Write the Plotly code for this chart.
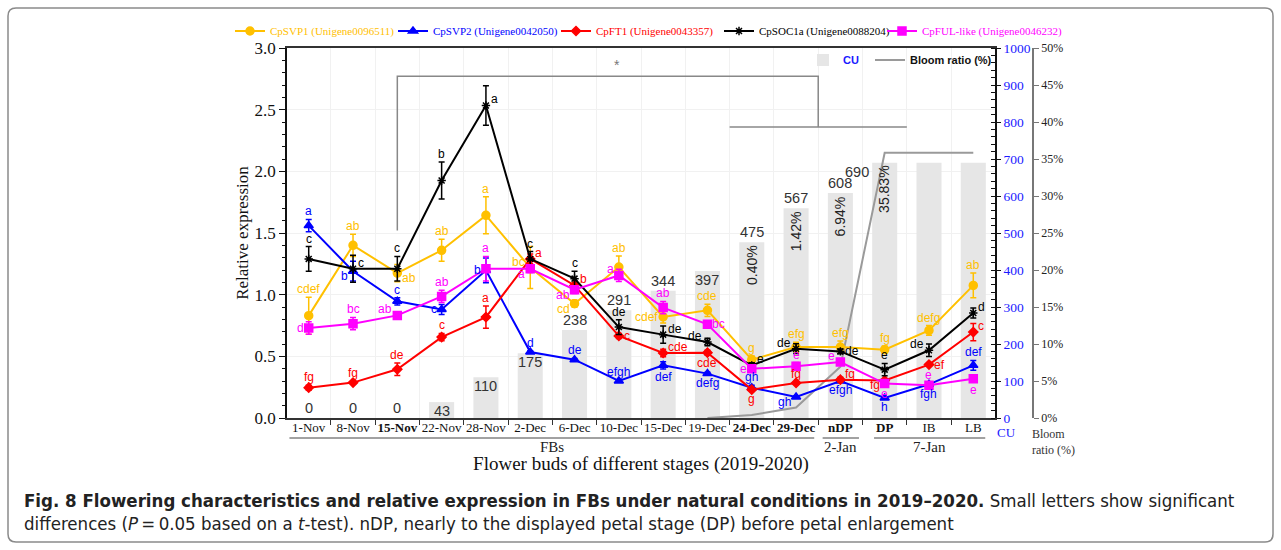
import plotly.graph_objects as go

# ---------------- data ----------------
stages = ["1-Nov", "8-Nov", "15-Nov", "22-Nov", "28-Nov", "2-Dec", "6-Dec", "10-Dec",
          "15-Dec", "19-Dec", "24-Dec", "29-Dec", "nDP", "DP", "IB", "LB"]
bold_stages = ["15-Nov", "24-Dec", "29-Dec", "nDP", "DP"]

cu = [0, 0, 0, 43, 110, 175, 238, 291, 344, 397, 475, 567, 608, 690, 690, 690]
cu_label_mode = ["out", "out", "out", "in", "in", "in", "out", "out", "out", "in",
                 "out", "out", "out", "in", None, None]

bloom_start = 9
bloom = [0, 0.40, 1.42, 6.94, 35.83, 35.83, 35.83]
bloom_label_idx = [10, 11, 12, 13]

svp1 = [0.83, 1.40, 1.175, 1.36, 1.643, 1.22, 0.927, 1.224, 0.82, 0.873, 0.473, 0.575, 0.575, 0.554, 0.71, 1.075]
svp1_err = [0.15, 0.09, 0.07, 0.09, 0.15, 0.17, 0.03, 0.09, 0.05, 0.05, 0.03, 0.04, 0.05, 0.03, 0.04, 0.10]
svp1_sig = ["cdef", "ab", "ab", "ab", "a", "bc", "cd", "ab", "cdef", "cde", "g", "efg", "efg", "fg", "defg", "ab"]
svp1_pos = ["t", "t", "br", "t", "t", "tl", "bl", "t", "l", "t", "t", "t", "t", "t", "t", "t"]

svp2 = [1.56, 1.19, 0.946, 0.88, 1.197, 0.535, 0.473, 0.30, 0.427, 0.36, 0.246, 0.17, 0.30, 0.162, 0.273, 0.427]
svp2_err = [0.05, 0.08, 0.03, 0.04, 0.10, 0.01, 0.01, 0.01, 0.03, 0.01, 0.02, 0.01, 0.01, 0.01, 0.01, 0.04]
svp2_sig = ["a", "b", "c", "c", "b", "d", "de", "efgh", "def", "defg", "gh", "gh", "efgh", "h", "fgh", "def"]
svp2_pos = ["t", "bl", "t", "l", "l", "t", "t", "t", "b", "b", "t", "bl", "b", "b", "b", "t"]

ft1 = [0.246, 0.287, 0.395, 0.656, 0.818, 1.29, 1.075, 0.665, 0.527, 0.53, 0.23, 0.284, 0.311, 0.305, 0.433, 0.697]
ft1_err = [0.02, 0.01, 0.05, 0.03, 0.09, 0.04, 0.02, 0.02, 0.03, 0.02, 0.01, 0.01, 0.02, 0.01, 0.01, 0.07]
ft1_sig = ["fg", "fg", "de", "c", "a", "a", "b", "c", "cde", "cde", "g", "fg", "fg", "fg", "ef", "c"]
ft1_pos = ["t", "t", "t", "t", "t", "tr", "tr", "r", "tr", "b", "b", "t", "tr", "bl", "r", "tr"]

soc1a = [1.29, 1.21, 1.21, 1.926, 2.534, 1.29, 1.13, 0.737, 0.676, 0.616, 0.427, 0.562, 0.54, 0.392, 0.549, 0.851]
soc1a_err = [0.10, 0.11, 0.10, 0.15, 0.16, 0.06, 0.06, 0.06, 0.07, 0.03, 0.02, 0.04, 0.02, 0.05, 0.05, 0.04]
soc1a_sig = ["c", "c", "c", "b", "a", "c", "c", "de", "de", "de", "e", "de", "de", "e", "de", "d"]
soc1a_pos = ["t", "tr", "t", "t", "tr", "t", "t", "t", "tr", "tl", "tr", "tl", "r", "t", "tl", "tr"]

ful = [0.73, 0.765, 0.832, 0.986, 1.21, 1.21, 1.04, 1.156, 0.895, 0.76, 0.40, 0.419, 0.454, 0.279, 0.265, 0.319]
ful_err = [0.05, 0.05, 0.03, 0.05, 0.10, 0.03, 0.03, 0.05, 0.05, 0.01, 0.02, 0.03, 0.02, 0.02, 0.02, 0.03]
ful_sig = ["d", "bc", "ab", "ab", "a", "a", "ab", "a", "ab", "bc", "e", "e", "e", "e", "e", "e"]
ful_pos = ["l", "t", "tl", "t", "t", "bl", "bl", "tl", "t", "r", "l", "t", "tl", "b", "t", "b"]

series = [
    ("CpSVP1 (Unigene0096511)", svp1, svp1_err, svp1_sig, svp1_pos, "#FFC000", "circle", 8),
    ("CpSVP2 (Unigene0042050)", svp2, svp2_err, svp2_sig, svp2_pos, "#0000FF", "triangle-up", 8),
    ("CpFT1 (Unigene0043357)", ft1, ft1_err, ft1_sig, ft1_pos, "#FF0000", "diamond", 7),
    ("CpSOC1a (Unigene0088204)", soc1a, soc1a_err, soc1a_sig, soc1a_pos, "#000000", "asterisk-open", 7),
    ("CpFUL-like (Unigene0046232)", ful, ful_err, ful_sig, ful_pos, "#FF00FF", "square", 8),
]

# ---------------- layout geometry ----------------
W, H = 1281, 550
ML, MR, MT, MB = 287, 241, 48, 132
PW = W - ML - MR
PH = H - MT - MB
PLOT_RIGHT = 995


def px2x(px):
    return (px - ML) / PW


def py2y(py):
    return (H - MB - py) / PH


SERIF = "Liberation Serif, Times New Roman, serif"
SANS = "Liberation Sans, Arial, sans-serif"
NARROW = "Liberation Sans Narrow, DejaVu Sans Condensed, Arial Narrow, sans-serif"

idx = list(range(len(stages)))
ticktext = [f"<b>{s}</b>" if s in bold_stages else s for s in stages]

fig = go.Figure()

# CU bars (base axis, drawn first)
fig.add_trace(go.Bar(
    x=idx, y=cu, width=0.565, marker=dict(color="#e6e6e6", line=dict(width=0)),
    name="<b><span style='color:#1a1aff'>CU</span></b>", yaxis="y", legend="legend2",
    legendwidth=22, hoverinfo="skip"))

# Bloom ratio line
fig.add_trace(go.Scatter(
    x=idx[bloom_start:], y=bloom, mode="lines", line=dict(color="#9a9a9a", width=2),
    name="<b>Bloom ratio (%)</b>", yaxis="y2", legend="legend2", legendwidth=90))

# gene expression lines
for k, (name, vals, err, sig, pos, col, sym, msize) in enumerate(series):
    fig.add_trace(go.Scatter(
        x=idx, y=vals, mode="lines+markers", yaxis="y3",
        name=f"<span style='color:{col}'>{name}</span>",
        line=dict(color=col, width=2),
        marker=dict(symbol=sym, size=msize, color=col, line=dict(color=col, width=1.5)),
        error_y=dict(type="data", array=err, color=col, thickness=1.5, width=3),
        legend="legend", legendwidth=(150 if k == len(series) - 1 else 118)))

annotations = []

# significance letters
for name, vals, err, sig, pos, col, sym, msize in series:
    for i, (v, e, s, p) in enumerate(zip(vals, err, sig, pos)):
        a = dict(x=i, xref="x", yref="y3", text=s, showarrow=False,
                 font=dict(family=SANS, size=12, color=col))
        if p == "t":
            a.update(y=v + e, yanchor="bottom", xanchor="center", yshift=-1)
        elif p == "b":
            a.update(y=v - e, yanchor="top", xanchor="center", yshift=1)
        elif p in ("l", "tl", "bl"):
            a.update(y=v, xanchor="right", yanchor="middle", xshift=-3,
                     yshift={"l": 0, "tl": 6, "bl": -5}[p])
        else:
            a.update(y=v, xanchor="left", yanchor="middle", xshift=3,
                     yshift={"r": 0, "tr": 6, "br": -5}[p])
        annotations.append(a)

# CU value labels
for i, (v, m) in enumerate(zip(cu, cu_label_mode)):
    if m is None:
        continue
    a = dict(x=i, xref="x", y=v, yref="y", text=str(v), showarrow=False,
             font=dict(family=SANS, size=14.5, color="#333333"))
    if m == "out":
        a.update(yanchor="bottom", yshift=0)
    else:
        a.update(yanchor="top", yshift=1)
    if i == 13:
        a.update(xshift=-28)
    annotations.append(a)

# bloom ratio percentage labels (rotated, inside the bars)
for i in bloom_label_idx:
    val = bloom[i - bloom_start]
    annotations.append(dict(x=i, xref="x", y=cu[i], yref="y", text=f"{val:.2f}%",
                            textangle=-90, showarrow=False, yanchor="top", yshift=-1,
                            font=dict(family=SANS, size=14, color="#222222")))

# significance star over bracket
annotations.append(dict(x=6.95, xref="x", y=2.86, yref="y3", text="*", showarrow=False,
                        font=dict(family=SANS, size=14, color="#777777")))

# group labels under x axis
groups = [("FBs", -0.435, 11.41), ("2-Jan", 11.6, 12.42), ("7-Jan", 12.76, 15.27)]
shapes = []
for lab, g0, g1 in groups:
    shapes.append(dict(type="line", xref="x", yref="paper", x0=g0, x1=g1,
                       y0=py2y(438), y1=py2y(438), line=dict(color="#444444", width=1)))
    annotations.append(dict(x=(g0 + g1) / 2, xref="x", y=py2y(447), yref="paper",
                            xanchor="center", yanchor="middle",
                            text=lab, showarrow=False,
                            font=dict(family=SERIF, size=15, color="#222222")))

# unit labels under right axes
annotations.append(dict(x=px2x(1006), xref="paper", y=py2y(432), yref="paper", text="CU",
                        xanchor="center", yanchor="middle", showarrow=False,
                        font=dict(family=SERIF, size=13, color="#1a1aff")))
annotations.append(dict(x=px2x(1030), xref="paper", y=py2y(442), yref="paper",
                        text="Bloom<br>ratio (%)", showarrow=False, xanchor="left",
                        yanchor="middle", align="left",
                        font=dict(family=SERIF, size=12, color="#333333")))

# caption
annotations.append(dict(
    x=px2x(22), xref="paper", y=py2y(500), yref="paper", xanchor="left", yanchor="middle",
    showarrow=False,
    text="<b>Fig. 8 Flowering characteristics and relative expression in FBs under natural "
         "conditions in 2019\u20132020.</b> Small letters show significant",
    font=dict(family=NARROW, size=18.5, color="#222222")))
annotations.append(dict(
    x=px2x(22), xref="paper", y=py2y(523), yref="paper", xanchor="left", yanchor="middle",
    showarrow=False,
    text="differences (<i>P</i>\u2009=\u20090.05 based on a <i>t</i>-test). nDP, nearly to the "
         "displayed petal stage (DP) before petal enlargement",
    font=dict(family=NARROW, size=18.5, color="#222222")))

# significance bracket
shapes.append(dict(type="path", xref="x", yref="y3",
                   path="M 2,1.52 L 2,2.77 L 11.5,2.77 L 11.5,2.36",
                   line=dict(color="#888888", width=1.5)))
shapes.append(dict(type="line", xref="x", yref="y3", x0=9.5, x1=13.5, y0=2.36, y1=2.36,
                   line=dict(color="#888888", width=1.5)))

# rounded outer frame
x0, x1 = px2x(8), px2x(1273)
y0, y1 = py2y(542), py2y(8)
rx, ry = 8 / PW, 8 / PH
frame = (f"M {x0+rx},{y1} L {x1-rx},{y1} Q {x1},{y1} {x1},{y1-ry} L {x1},{y0+ry} "
         f"Q {x1},{y0} {x1-rx},{y0} L {x0+rx},{y0} Q {x0},{y0} {x0},{y0+ry} "
         f"L {x0},{y1-ry} Q {x0},{y1} {x0+rx},{y1} Z")
shapes.append(dict(type="path", xref="paper", yref="paper", path=frame,
                   line=dict(color="#8a8a8a", width=1.5), layer="below"))

fig.update_layout(
    width=W, height=H,
    margin=dict(l=ML, r=MR, t=MT, b=MB, pad=0),
    paper_bgcolor="white", plot_bgcolor="white",
    barmode="overlay",
    xaxis=dict(
        domain=[0, px2x(PLOT_RIGHT)], range=[-0.49, 15.49],
        tickmode="array", tickvals=idx, ticktext=ticktext, ticks="",
        tickfont=dict(family=SERIF, size=13, color="#111111"),
        ticklabelstandoff=-3,
        showline=True, linecolor="#333333", linewidth=1.5, mirror=True,
        showgrid=False, zeroline=False,
        minor=dict(tickmode="linear", tick0=-0.5, dtick=1, ticks="outside", ticklen=5,
                   tickcolor="#333333", tickwidth=1.2, showgrid=True, gridcolor="#f1f1f1"),
        title=dict(text="Flower buds of different stages (2019-2020)", standoff=22,
                   font=dict(family=SERIF, size=19, color="#111111")),
    ),
    yaxis=dict(
        range=[0, 1000], dtick=100, side="right", anchor="x",
        tickfont=dict(family=SERIF, size=13.5, color="#1a1aff"),
        showline=True, linecolor="#111111", linewidth=1.5,
        ticks="outside", ticklen=4, tickcolor="#111111", tickwidth=1.2,
        minor=dict(dtick=20, ticks="inside", ticklen=4, tickcolor="#111111", tickwidth=1),
        showgrid=False, zeroline=False,
    ),
    yaxis2=dict(
        range=[0, 50], dtick=5, ticksuffix="%", overlaying="y", side="right",
        anchor="free", position=px2x(1033),
        tickfont=dict(family=SERIF, size=12, color="#222222"),
        showline=True, linecolor="#777777", linewidth=1.5,
        ticks="outside", ticklen=5, tickcolor="#777777", tickwidth=1.2,
        showgrid=False, zeroline=False,
    ),
    yaxis3=dict(
        range=[0, 3], dtick=0.5, tickformat=".1f", overlaying="y", side="left", anchor="x",
        tickfont=dict(family=SERIF, size=17, color="#111111"),
        showline=True, linecolor="#111111", linewidth=1.5,
        ticks="outside", ticklen=6, tickcolor="#111111", tickwidth=1.2,
        minor=dict(dtick=0.1, ticks="outside", ticklen=3, tickcolor="#111111", tickwidth=1),
        showgrid=True, gridcolor="#f1f1f1", zeroline=False,
        title=dict(text="Relative expression", standoff=2,
                   font=dict(family=SERIF, size=17, color="#111111")),
    ),
    legend=dict(
        orientation="h", x=px2x(230), y=py2y(31), xanchor="left", yanchor="middle",
        font=dict(family=SERIF, size=11, color="#111111"), bgcolor="rgba(0,0,0,0)",
        itemwidth=30, tracegroupgap=0,
    ),
    legend2=dict(
        orientation="h", x=px2x(803), y=py2y(60), xanchor="left", yanchor="middle",
        font=dict(family=SANS, size=11, color="#111111"), bgcolor="rgba(0,0,0,0)",
        itemwidth=30,
    ),
    annotations=annotations,
    shapes=shapes,
)

fig.write_html("out.html")
